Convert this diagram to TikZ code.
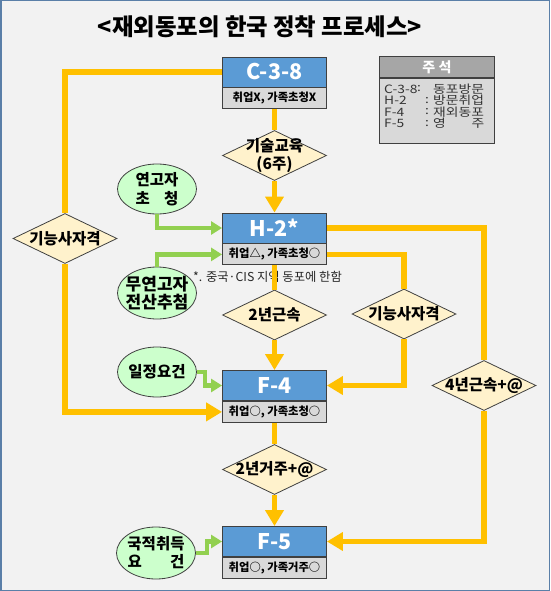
\documentclass[tikz,border=0pt]{standalone}
\usepackage{fontspec}
\setmainfont{Noto Sans CJK KR}
\newfontfamily\legfont{Noto Sans CJK KR}[FakeStretch=1.2]
\usetikzlibrary{arrows.meta,positioning,shapes.geometric}
\definecolor{boxblue}{HTML}{5B9BD5}
\definecolor{subgray}{HTML}{D9D9D9}
\definecolor{hdgray}{HTML}{A6A6A6}
\definecolor{diafill}{HTML}{FFF2CC}
\definecolor{ellfill}{HTML}{CCFFCC}
\definecolor{lineyel}{HTML}{FFC000}
\definecolor{linegrn}{HTML}{92D050}
\definecolor{edgegray}{HTML}{404040}
\definecolor{framebl}{HTML}{5A7FA8}
\definecolor{bggray}{HTML}{F2F2F2}

\begin{document}
\begin{tikzpicture}[x=1pt, y=-1pt,
    visa/.style={rectangle, draw=edgegray, line width=0.9pt, fill=boxblue,
                 minimum width=104pt, minimum height=30pt, inner sep=0pt,
                 text=white, font=\fontsize{21.5}{24}\selectfont\bfseries},
    cond/.style={rectangle, draw=edgegray, line width=0.9pt, fill=subgray,
                 minimum width=104pt, minimum height=21pt, inner sep=0pt,
                 font=\fontsize{11.3}{13}\selectfont\bfseries},
    gatetxt/.style={align=center, inner sep=0pt,
                 font=\fontsize{15.5}{18}\selectfont\bfseries},
    gate/.style={diamond, draw=edgegray, line width=0.8pt, fill=diafill,
                 minimum width=104pt, minimum height=50pt, inner sep=0pt,
                 label={[gatetxt]center:#1}},
    req/.style={ellipse, draw=edgegray, line width=0.8pt, fill=ellfill,
                 minimum width=79pt, minimum height=50pt, inner sep=-10pt,
                 align=center, font=\fontsize{15.5}{19}\selectfont\bfseries},
    leg/.style={inner sep=0pt, text=black!80, font=\legfont\fontsize{11.5}{12}\selectfont},
    yl/.style={draw=lineyel, line width=5.5pt},
    yla/.style={yl, -{Triangle[length=16pt,width=18pt]}},
    gla/.style={draw=linegrn, line width=4.5pt, -{Triangle[length=11pt,width=13pt]}},
]
\useasboundingbox (0,0) rectangle (550,591);
\draw[draw=framebl, line width=1.5pt, fill=bggray] (0.75,0.75) rectangle (549.25,590.25);

% title
\node[font=\fontsize{23.4}{27}\selectfont\bfseries] (title) at (260,27)
    {<재외동포의 한국 정착 프로세스>};

% legend
\node[rectangle, draw=edgegray, line width=0.8pt, fill=subgray, anchor=north west,
      minimum width=115pt, minimum height=65pt] (legbox) at (379,78) {};
\node[rectangle, draw=edgegray, line width=0.8pt, fill=hdgray, anchor=south west,
      minimum width=115pt, minimum height=21pt, text=white,
      font=\fontsize{14}{16}\selectfont\bfseries] (leghd) at (379,78) {주 석};
\foreach \y/\code/\cx/\word in {89/C-3-8/419/동포방문, 100.5/H-2/427/방문취업,
                                112/F-4/427/재외동포, 123.5/F-5/427/{영\hfill 주}} {
  \node[leg, anchor=west] at (384,\y) {\code};
  \node[leg] at (\cx,\y) {:};
  \node[leg, anchor=west] at (433,\y) {\makebox[51pt][s]{\word}};
}

% C-3-8
\node[visa] (c38) at (274.5,72) {C-3-8};
\node[cond, below=0pt of c38] (c38s) {취업X, 가족초청X};

% H-2
\node[visa] (h2) at (274.5,228) {H-2*};
\node[cond, below=0pt of h2] (h2s) {취업△, 가족초청○};
\node[anchor=west, inner sep=0pt, text=black!85,
      font=\fontsize{12.3}{14}\selectfont] (note) at (193,277) {*. 중국·CIS 지역 동포에 한함};

% F-4
\node[visa] (f4) at (274.5,385.5) {F-4};
\node[cond, below=0pt of f4] (f4s) {취업○, 가족초청○};

% F-5
\node[visa] (f5) at (274.5,541.5) {F-5};
\node[cond, below=0pt of f5] (f5s) {취업○, 가족거주○};

% diamonds
\node[gate={기술교육\\(6주)}] (dedu) at (274.5,155.5) {};
\node[gate={2년근속}] (d2w) at (274.5,315) {};
\node[gate={2년거주+@}] (d2r) at (274.5,469.5) {};
\node[gate={기능사자격}] (dskl) at (65,238.5) {};
\node[gate={기능사자격}] (dskr) at (404,314) {};
\node[gate={4년근속+@}] (d4w) at (484,385.5) {};

% requirement ellipses
\node[req] (ekin) at (157,189) {연고자\\\makebox[2.75em][s]{초\hfill 청}};
\node[req, minimum height=52pt, font=\fontsize{17}{18}\selectfont\bfseries] (elot) at (157,293) {무연고자\\전산추첨};
\node[req] (efix) at (157,372) {일정요건};
\node[req, minimum height=52pt, font=\fontsize{15.5}{18}\selectfont\bfseries] (enat) at (156,553) {국적취득\\\makebox[3.65em][s]{요\hfill 건}};

% main column
\draw[yl] (c38s) -- (dedu);
\draw[yla] (dedu) -- (h2);
\draw[yl] (h2s) -- (d2w);
\draw[yla] (d2w) -- (f4);
\draw[yl] (f4s) -- (d2r);
\draw[yla] (d2r) -- (f5);

% side routes
\draw[yl] (c38.west) -| (dskl.north);
\draw[yla] (dskl.south) |- (f4s.west);
\draw[yl] (h2s.east) -| (dskr.north);
\draw[yla] (dskr.south) |- (f4.east);
\draw[yl] (h2.east) -| (d4w.north);
\draw[yla] (d4w.south) |- (f5.east);

% green inputs
\draw[gla] (ekin.south) |- (h2.west);
\draw[gla] (elot.north) |- (h2s.west);
\draw[gla] (efix.east) -- ++(8,0) |- (f4.west);
\draw[gla] (enat.east) -- ++(11,0) |- (f5.west);

\end{tikzpicture}
\end{document}
